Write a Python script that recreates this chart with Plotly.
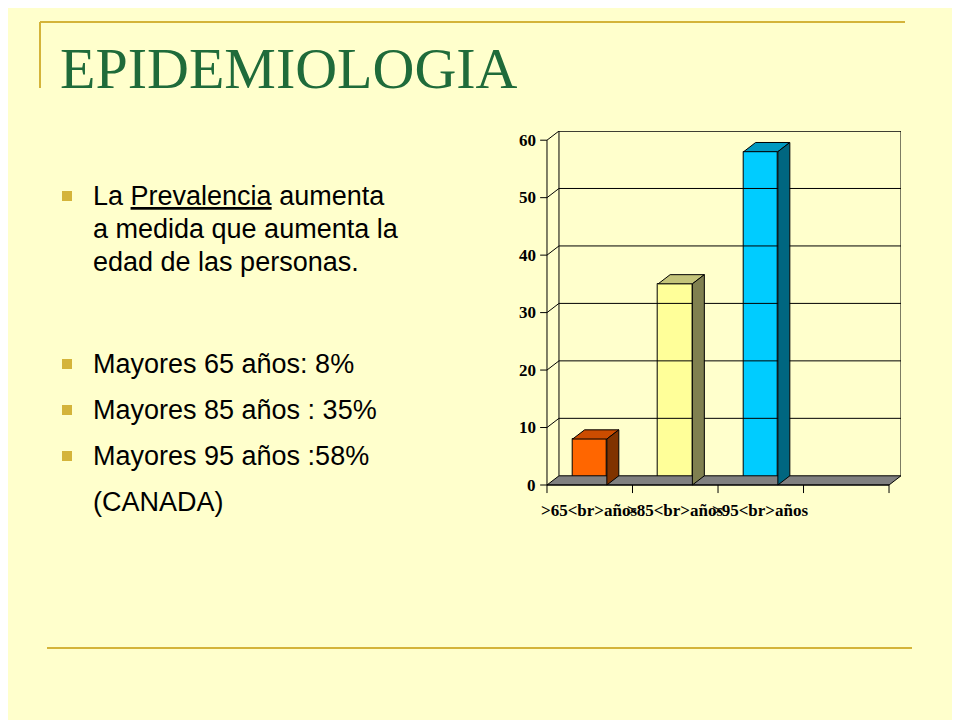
import plotly.graph_objects as go

categories = [">65<br>años", ">85<br>años", ">95<br>años"]
values = [8, 35, 58]
front_colors = ["#FF6600", "#FFFF99", "#00CCFF"]
top_colors = ["#CC4C00", "#C4C47A", "#0099C0"]
side_colors = ["#803300", "#808050", "#006680"]
y_ticks = [0, 10, 20, 30, 40, 50, 60]
bullet_lines = [["La <u>Prevalencia</u> aumenta", "a medida que aumenta la", "edad de las personas."],
                ["Mayores 65 años: 8%"], ["Mayores 85 años : 35%"], ["Mayores 95 años :58%"]]

DX, DY, W, NCAT = 0.14, 1.6, 0.4, 4
BG = "#FFFFCC"
OFF = 8
def px(x): return (x - OFF) / 960
def py(y): return 1 - (y - OFF) / 720

fig = go.Figure()

def poly(xs, ys, fill, line="black", width=1):
    fig.add_trace(go.Scatter(x=xs, y=ys, mode="lines", fill="toself", fillcolor=fill,
                             line=dict(color=line, width=width), hoverinfo="skip", showlegend=False))

def line(xs, ys, color="black", width=1):
    fig.add_trace(go.Scatter(x=xs, y=ys, mode="lines", line=dict(color=color, width=width),
                             hoverinfo="skip", showlegend=False))

for t in y_ticks[1:]:
    line([DX, NCAT + DX], [t + DY, t + DY])
    line([0, DX], [t, t + DY])
line([DX, DX, NCAT + DX, NCAT + DX], [DY, 60 + DY, 60 + DY, DY])
poly([0, NCAT, NCAT + DX, DX, 0], [0, 0, DY, DY, 0], "#808080")
line([0, 0], [0, 60])
line([0, NCAT], [0, 0])
for t in y_ticks:
    line([-0.08, 0], [t, t])
for i in range(NCAT + 1):
    line([i, i], [0, -1.4])

for i, v in enumerate(values):
    c = i + 0.5
    x0, x1 = c - W / 2, c + W / 2
    fig.add_trace(go.Bar(x=[c], y=[v], width=W, marker=dict(color=front_colors[i], line=dict(color="black", width=1)),
                         hoverinfo="skip", showlegend=False))
    poly([x0, x1, x1 + DX, x0 + DX, x0], [v, v, v + DY, v + DY, v], top_colors[i])
    poly([x1, x1 + DX, x1 + DX, x1, x1], [0, DY, v + DY, v, 0], side_colors[i])

ann = []
for t in y_ticks:
    ann.append(dict(x=-0.1, y=t, xref="x", yref="y", text=f"<b>{t}</b>", showarrow=False, xanchor="right",
                    font=dict(family="Liberation Serif", size=17, color="black")))
for i, c in enumerate(categories):
    ann.append(dict(x=i + 0.5, y=-2.5, xref="x", yref="y", text=f"<b>{c.replace('>', '&gt;')}</b>", showarrow=False,
                    yanchor="top", font=dict(family="Liberation Serif", size=17, color="black")))

ann.append(dict(x=px(58), y=py(68), xref="paper", yref="paper", text="EPIDEMIOLOGIA", showarrow=False,
                xanchor="left", yanchor="middle", font=dict(family="Liberation Serif", size=58, color="#1F6B3A")))
bullet_y = [196, 364, 410, 456]
for by, lines in zip(bullet_y, bullet_lines):
    for k, txt in enumerate(lines):
        ann.append(dict(x=px(91), y=py(by + 33 * k), xref="paper", yref="paper", text=txt, showarrow=False,
                        xanchor="left", yanchor="middle", font=dict(family="Liberation Sans", size=27, color="black")))
ann.append(dict(x=px(91), y=py(502), xref="paper", yref="paper", text="(CANADA)", showarrow=False,
                xanchor="left", yanchor="middle", font=dict(family="Liberation Sans", size=27, color="black")))

G = "#D4B43A"
shapes = [
    dict(type="line", xref="paper", yref="paper", x0=px(40), x1=px(905), y0=py(22), y1=py(22), line=dict(color=G, width=2)),
    dict(type="line", xref="paper", yref="paper", x0=px(40), x1=px(40), y0=py(22), y1=py(88), line=dict(color=G, width=2)),
    dict(type="line", xref="paper", yref="paper", x0=px(47), x1=px(912), y0=py(648), y1=py(648), line=dict(color=G, width=2)),
]
for by in bullet_y:
    shapes.append(dict(type="rect", xref="paper", yref="paper", x0=px(62), x1=px(72),
                       y0=py(by + 5), y1=py(by - 5), fillcolor=G, line=dict(width=0)))

# axes: x range [-0.6, 4.14] over pixels 496..901 ; y range [-12, 61.6] over 554..131
xpx_per = (901 - 547) / (NCAT + DX)
ypx_per = (485 - 131) / (60 + DY)
XL, YB = -0.6, -12
fig.update_layout(width=960, height=720, margin=dict(l=0, r=0, t=0, b=0),
                  paper_bgcolor=BG, plot_bgcolor=BG, annotations=ann, shapes=shapes,
                  xaxis=dict(domain=[px(547 + XL * xpx_per), px(901)], range=[XL, NCAT + DX], visible=False, fixedrange=True),
                  yaxis=dict(domain=[py(485 - YB * ypx_per), py(131)], range=[YB, 60 + DY], visible=False, fixedrange=True),
                  bargap=0)
fig.write_html("out.html")
